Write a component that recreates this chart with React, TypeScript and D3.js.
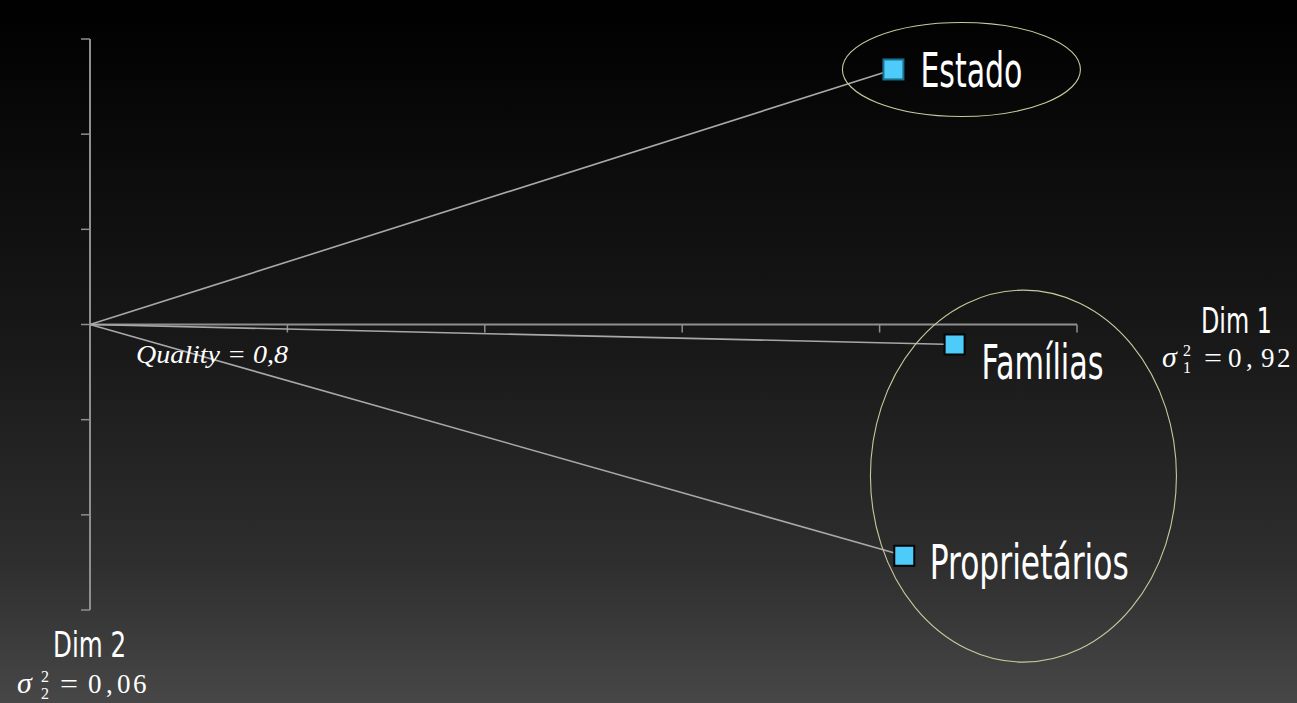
import React from "react";
import * as d3 from "d3";

const categories = ["Estado", "Famílias", "Proprietários"];
const dim1 = [0.814, 0.876, 0.825];
const dim2 = [0.536, -0.042, -0.486];
const xDomain = [0, 1];
const yDomain = [-0.6, 0.6];
const qualityText = "Quality = 0,8";
const dim1Title = "Dim 1";
const dim2Title = "Dim 2";
const dim1Var = ["σ", "1", "2", "=", "0", ",", "9", "2"];
const dim2Var = ["σ", "2", "2", "=", "0", ",", "0", "6"];

const W = 1297;
const H = 703;
const SANS = "'Liberation Sans Narrow', 'DejaVu Sans Condensed', Lato, sans-serif";
const SERIF = "'Liberation Serif', 'DejaVu Serif', serif";

export default function App() {
  const x = d3.scaleLinear().domain(xDomain).range([90, 1077]);
  const y = d3.scaleLinear().domain(yDomain).range([610, 39]);
  const xt = x.ticks(5);
  const yt = y.ticks(6);
  const x0 = x(0);
  const y0 = y(0);
  const axisColor = "#8f8f8f";
  const lineColor = "#a8a8a8";
  const ellColor = "#c9c99c";

  // label layout (pixel offsets from the marker)
  const labelLayout = [
    { dx: 27, dy: 17.5, w: 102 },
    { dx: 27, dy: 34.5, w: 122 },
    { dx: 25.5, dy: 23.5, w: 199 },
  ];

  const mathRow = (parts: string[], pos: number[], bx: number, by: number) => (
    <g fontFamily={SERIF} fill="#fff">
      <text x={bx + pos[0]} y={by} fontSize={30} fontStyle="italic">{parts[0]}</text>
      <text x={bx + pos[1]} y={by + 6} fontSize={16}>{parts[1]}</text>
      <text x={bx + pos[2]} y={by - 11} fontSize={16}>{parts[2]}</text>
      <text x={bx + pos[3]} y={by} fontSize={28} textLength={18} lengthAdjust="spacingAndGlyphs">{parts[3]}</text>
      <text x={bx + pos[4]} y={by} fontSize={27}>{parts[4]}</text>
      <text x={bx + pos[5]} y={by} fontSize={27}>{parts[5]}</text>
      <text x={bx + pos[6]} y={by} fontSize={27}>{parts[6]}</text>
      <text x={bx + pos[7]} y={by} fontSize={27}>{parts[7]}</text>
    </g>
  );

  return (
    <svg
      width={W}
      height={H}
      style={{ position: "fixed", left: 0, top: 0, display: "block" }}
    >
      <defs>
        <linearGradient id="bg" x1="0" y1="0" x2="0" y2="1">
          <stop offset="0" stopColor="#000000" />
          <stop offset="0.5" stopColor="#191919" />
          <stop offset="0.8" stopColor="#2e2e2e" />
          <stop offset="1" stopColor="#474747" />
        </linearGradient>
      </defs>
      <rect x={0} y={0} width={W} height={H} fill="url(#bg)" />

      {/* axes */}
      <g stroke={axisColor} strokeWidth={2} fill="none">
        <line x1={x(xDomain[0])} x2={x(xDomain[1])} y1={y0} y2={y0} />
        <line x1={x0} x2={x0} y1={y(yDomain[0])} y2={y(yDomain[1])} />
        {xt.filter((t) => t !== 0).map((t) => (
          <line key={"xt" + t} x1={x(t)} x2={x(t)} y1={y0} y2={y0 + 8} strokeWidth={1.5} />
        ))}
        {yt.map((t) => (
          <line key={"yt" + t} x1={x0 - 9} x2={x0} y1={y(t)} y2={y(t)} strokeWidth={1.5} />
        ))}
      </g>

      {/* vectors */}
      <g stroke={lineColor} strokeWidth={1.6}>
        {categories.map((c, i) => (
          <line key={"v" + c} x1={x0} y1={y0} x2={x(dim1[i])} y2={y(dim2[i])} />
        ))}
      </g>

      {/* group ellipses */}
      <g fill="none" stroke={ellColor} strokeWidth={1.1}>
        <ellipse cx={x(dim1[0]) + 68} cy={y(dim2[0])} rx={119} ry={47} />
        <ellipse
          cx={(x(dim1[1]) + x(dim1[2])) / 2 + 94}
          cy={(y(dim2[1]) + y(dim2[2])) / 2 + 26}
          rx={153}
          ry={186}
        />
      </g>

      {/* markers */}
      {categories.map((c, i) => (
        <rect
          key={"m" + c}
          x={x(dim1[i]) - 10}
          y={y(dim2[i]) - 10}
          width={20}
          height={20}
          fill="#4dcbf9"
          stroke={i === 0 ? "#1a6f8c" : "#050505"}
          strokeWidth={2}
        />
      ))}

      {/* labels */}
      {categories.map((c, i) => (
        <text
          key={"l" + c}
          x={x(dim1[i]) + labelLayout[i].dx}
          y={y(dim2[i]) + labelLayout[i].dy}
          fontFamily={SANS}
          fontSize={48}
          fill="#ffffff"
          textLength={labelLayout[i].w}
          lengthAdjust="spacingAndGlyphs"
        >
          {c}
        </text>
      ))}

      {/* quality */}
      <text x={136} y={363} fontFamily={SERIF} fontStyle="italic" fontSize={26} fill="#fff" textLength={152} lengthAdjust="spacingAndGlyphs">
        {qualityText}
      </text>

      {/* axis titles */}
      <text x={1201} y={333} fontFamily={SANS} fontSize={36} fill="#fff" textLength={71} lengthAdjust="spacingAndGlyphs">
        {dim1Title}
      </text>
      {mathRow(dim1Var, [0, 21, 21, 42, 66, 84, 99, 115], 1162, 367)}

      <text x={53} y={657} fontFamily={SANS} fontSize={36} fill="#fff" textLength={73} lengthAdjust="spacingAndGlyphs">
        {dim2Title}
      </text>
      {mathRow(dim2Var, [0, 24, 24, 43, 71, 89, 100, 116], 17, 693)}
    </svg>
  );
}
